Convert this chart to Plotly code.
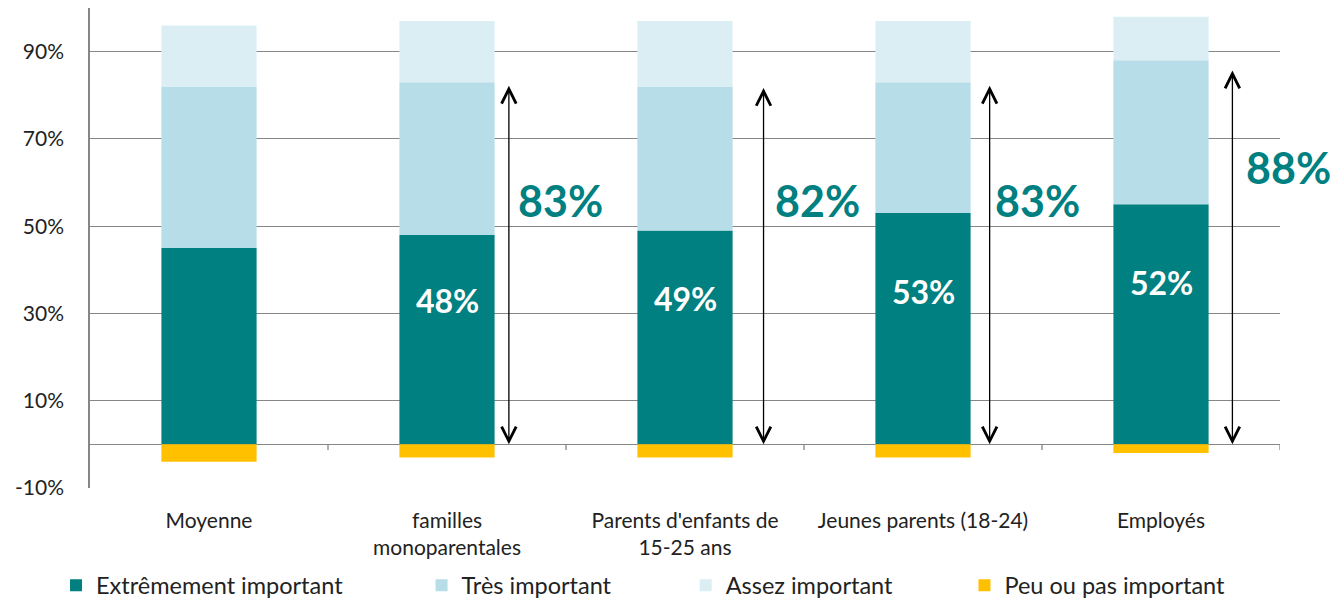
import plotly.graph_objects as go

categories = ["Moyenne", "familles<br>monoparentales", "Parents d'enfants de<br>15-25 ans",
              "Jeunes parents (18-24)", "Employés"]
extremement = [45, 48, 49, 53, 55]
tres = [37, 35, 33, 30, 33]
assez = [14, 14, 15, 14, 10]
peu = [-4, -3, -3, -3, -2]

inner_labels = ["", "48%", "49%", "53%", "52%"]
inner_label_y = [None, 33, 33.5, 35, 37]
total_labels = ["", "83%", "82%", "83%", "88%"]
total_label_y = [None, 56, 56, 56, 63.5]
arrow_top = [None, 82.5, 82, 82.5, 86]

TEAL = "#008080"
colors = {"Extrêmement important": TEAL, "Très important": "#B7DDE8",
          "Assez important": "#DBEEF4", "Peu ou pas important": "#FFC000"}
FONT = "Lato, 'Open Sans', sans-serif"

# layout offsets (category units / pixels)
arrow_dx = [None, 0.26, 0.33, 0.28, 0.30]
label_dx = [None, 0.475, 0.49, 0.48, 0.49]
label_xshift = [0, 0, 16, 0, 11]

fig = go.Figure()
series = [("Extrêmement important", extremement), ("Très important", tres),
          ("Assez important", assez), ("Peu ou pas important", peu)]
legend_names = ["legend2", "legend3", "legend4", "legend5"]
legend_x = [0.036, 0.31, 0.508, 0.717]
xidx = list(range(len(categories)))
for (name, vals), lg in zip(series, legend_names):
    fig.add_trace(go.Bar(x=xidx, y=vals, name=name, marker_color=colors[name],
                         marker_line_width=0, width=0.4, legend=lg))

layout_legends = {}
for lg, lx in zip(legend_names, legend_x):
    layout_legends[lg] = dict(x=lx, y=-0.203, xref="container", yref="paper", xanchor="left",
                              yanchor="middle", orientation="h",
                              font=dict(family=FONT, size=23.5, color="#222"),
                              bgcolor="rgba(0,0,0,0)", itemwidth=30)

annotations = []
for i in xidx:
    if inner_labels[i]:
        annotations.append(dict(x=i, y=inner_label_y[i], text="<b>%s</b>" % inner_labels[i],
                                showarrow=False, font=dict(family=FONT, size=32, color="white")))
    if total_labels[i]:
        ax_x = i + arrow_dx[i]
        annotations.append(dict(x=ax_x, y=0, ax=ax_x, ay=arrow_top[i], xref="x", yref="y",
                                axref="x", ayref="y", showarrow=True, arrowhead=5,
                                startarrowhead=5, arrowside="end+start", arrowsize=2.2,
                                startarrowsize=2.2, arrowwidth=1.3, arrowcolor="black", text=""))
        annotations.append(dict(x=i + label_dx[i], y=total_label_y[i], xshift=label_xshift[i],
                                text="<b>%s</b>" % total_labels[i],
                                showarrow=False, font=dict(family=FONT, size=43, color=TEAL)))

shapes = []
for b in [0.5, 1.5, 2.5, 3.5, 4.5]:
    shapes.append(dict(type="line", xref="x", yref="y", x0=b, x1=b, y0=0, y1=-1.3,
                       line=dict(color="#868686", width=1.3)))

fig.update_layout(
    width=1334, height=594,
    margin=dict(l=82, r=62, t=0, b=114, autoexpand=False),
    plot_bgcolor="white", paper_bgcolor="white",
    barmode="relative", bargap=0.6, showlegend=True,
    annotations=annotations, shapes=shapes,
    font=dict(family=FONT, color="#222"),
    **layout_legends,
)
fig.update_xaxes(tickmode="array", tickvals=xidx, ticktext=categories, range=[-0.5, 4.5],
                 showgrid=False, showline=False, ticks="", ticklabelstandoff=18,
                 tickfont=dict(family=FONT, size=21, color="#222"))
fig.update_yaxes(range=[-10, 100], tickvals=[-10, 10, 30, 50, 70, 90],
                 ticktext=["-10%", "10%", "30%", "50%", "70%", "90%"],
                 showgrid=True, gridcolor="#868686", gridwidth=1.3,
                 zeroline=True, zerolinecolor="#868686", zerolinewidth=1.3,
                 showline=True, linecolor="#868686", linewidth=1.5, ticklabelstandoff=20,
                 tickfont=dict(family=FONT, size=21, color="#222"), ticks="", ticklen=0)

fig.write_html("out.html")
